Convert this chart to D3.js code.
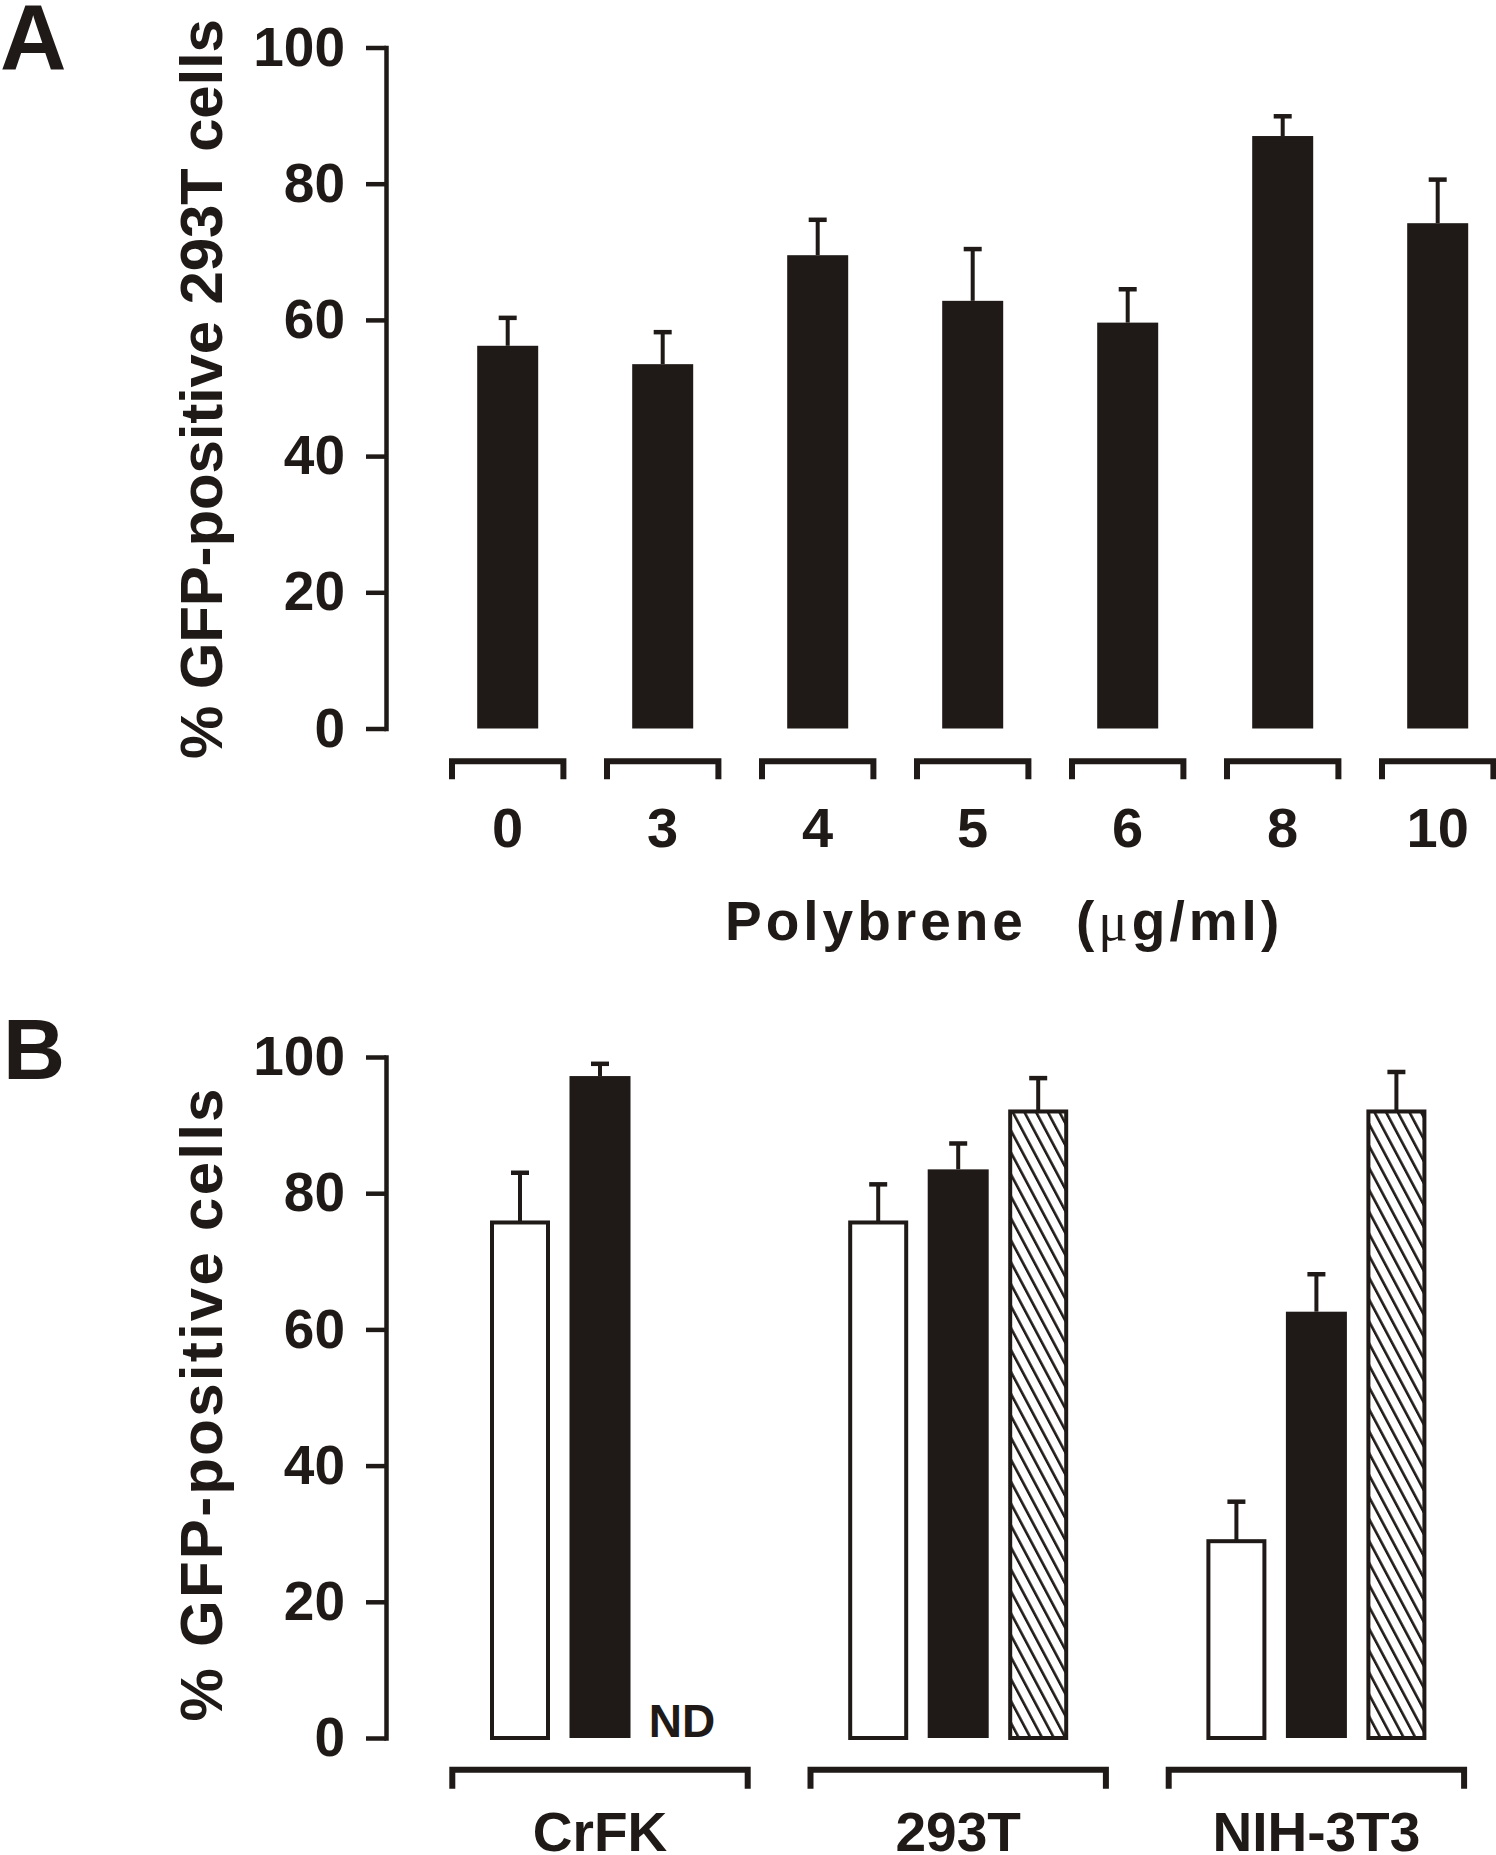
<!DOCTYPE html>
<html lang="en">
<head>
  <meta charset="UTF-8">
  <style>
    body { margin: 0; background: #fff; }
    svg { display: block; font-family: Arial, 'Liberation Sans', sans-serif; }
    text { font-weight: bold; fill: #1f1a17; }
  </style>
</head>
<body>
  <svg class="chart"></svg>
  <script src="https://cdnjs.cloudflare.com/ajax/libs/d3/7.8.5/d3.min.js"></script>
  <script>
    // panel A: polybrene dose series
    const doses = ['0', '3', '4', '5', '6', '8', '10']
    const doseMeans = [56.2, 53.5, 69.5, 62.8, 59.6, 87.0, 74.2]
    const doseErrors = [4.1, 4.7, 5.2, 7.6, 4.9, 2.9, 6.4]

    // panel B: three cell lines, three conditions (null = not determined)
    const cellLines = ['CrFK', '293T', 'NIH-3T3']
    const conditions = ['open', 'solid', 'hatched']
    const openMeans = [75.7, 75.7, 28.9]
    const openErrors = [7.3, 5.6, 5.8]
    const solidMeans = [97.2, 83.5, 62.6]
    const solidErrors = [1.8, 3.8, 5.5]
    const hatchedMeans = [null, 92.0, 92.0]
    const hatchedErrors = [null, 4.9, 5.8]

    const yTicks = [0, 20, 40, 60, 80, 100]

    const ink = '#1f1a17'
    const W = 1496, H = 1855
    const axisX = 386

    const svg = d3.select('.chart')
      .attr('width', W)
      .attr('height', H)

    // diagonal hatch for the third condition
    svg.append('defs').append('pattern')
        .attr('id', 'hatch')
        .attr('patternUnits', 'userSpaceOnUse')
        .attr('width', 10.3)
        .attr('height', 20)
        .attr('patternTransform', 'rotate(-28)')
      .append('rect')
        .attr('x', 0)
        .attr('y', 0)
        .attr('width', 2.6)
        .attr('height', 20)
        .attr('fill', ink)

    function drawAxis(y) {
      const ax = svg.append('g')
        .attr('transform', `translate(${axisX},0)`)
        .call(d3.axisLeft(y).tickValues(yTicks).tickSize(20).tickSizeOuter(0).tickPadding(21))
        .attr('font-family', null)
        .attr('font-size', null)
      ax.select('.domain')
        .attr('stroke', ink)
        .attr('stroke-width', 4.5)
        .attr('stroke-linecap', 'square')
      ax.selectAll('.tick line')
        .attr('stroke', ink)
        .attr('stroke-width', 4.5)
      ax.selectAll('.tick text')
        .attr('font-size', 55)
        .attr('fill', ink)
    }

    function drawError(g, x, y, v, e) {
      if (v == null || e == null) return
      g.append('line')
        .attr('x1', x).attr('x2', x)
        .attr('y1', y(v)).attr('y2', y(v + e))
        .attr('stroke', ink).attr('stroke-width', 4)
      g.append('line')
        .attr('x1', x - 9).attr('x2', x + 9)
        .attr('y1', y(v + e)).attr('y2', y(v + e))
        .attr('stroke', ink).attr('stroke-width', 4.5)
    }

    function bracket(g, cx, half, top, bottom) {
      g.append('path')
        .attr('d', `M${cx - half},${bottom}V${top}H${cx + half}V${bottom}`)
        .attr('fill', 'none')
        .attr('stroke', ink)
        .attr('stroke-width', 6)
    }

    // ---------- panel A ----------
    const yA = d3.scaleLinear().domain([0, 100]).range([728.5, 47.5])
    const xA = d3.scalePoint().domain(doses).range([507.7, 1437.7])
    const gA = svg.append('g')

    drawAxis(yA)

    doses.forEach((d, i) => {
      drawError(gA, xA(d), yA, doseMeans[i], doseErrors[i])
    })
    gA.selectAll('rect.bar')
      .data(doses)
      .enter().append('rect')
        .attr('class', 'bar')
        .attr('x', d => xA(d) - 30.5)
        .attr('y', (d, i) => yA(doseMeans[i]))
        .attr('width', 61)
        .attr('height', (d, i) => yA(0) - yA(doseMeans[i]))
        .attr('fill', ink)

    doses.forEach(d => bracket(gA, xA(d), 55.7, 761.3, 779.3))

    gA.selectAll('text.dose')
      .data(doses)
      .enter().append('text')
        .attr('class', 'dose')
        .attr('x', d => xA(d))
        .attr('y', 846.5)
        .attr('text-anchor', 'middle')
        .attr('font-size', 56)
        .text(d => d)

    const xTitle = gA.append('text')
      .attr('x', 725)
      .attr('y', 940)
      .attr('font-size', 55)
      .attr('letter-spacing', 4)
    xTitle.append('tspan').text('Polybrene')
    xTitle.append('tspan').attr('x', 1076).text('(')
    xTitle.append('tspan')
      .attr('font-family', "'Liberation Serif', 'DejaVu Serif', serif")
      .style('font-weight', 'normal')
      .text('\u03bc')
    xTitle.append('tspan').text('g/ml)')

    gA.append('text')
      .attr('transform', 'translate(222,389) rotate(-90)')
      .attr('text-anchor', 'middle')
      .attr('font-size', 60)
      .attr('textLength', 740)
      .attr('lengthAdjust', 'spacing')
      .text('% GFP-positive 293T cells')

    svg.append('text')
      .attr('x', 0).attr('y', 69)
      .attr('font-size', 92)
      .text('A')

    // ---------- panel B ----------
    const yB = d3.scaleLinear().domain([0, 100]).range([1738, 1057])
    const xB = d3.scalePoint().domain(cellLines).range([600, 1316.4])
    const xSub = d3.scalePoint().domain(conditions).range([-80, 80])
    const gB = svg.append('g')

    drawAxis(yB)

    const means = { open: openMeans, solid: solidMeans, hatched: hatchedMeans }
    const errors = { open: openErrors, solid: solidErrors, hatched: hatchedErrors }

    conditions.forEach(c => {
      cellLines.forEach((line, i) => {
        drawError(gB, xB(line) + xSub(c), yB, means[c][i], errors[c][i])
      })
    })

    conditions.forEach(c => {
      const rows = cellLines.map((line, i) => ({ line, v: means[c][i] })).filter(r => r.v != null)
      const outlined = c !== 'solid'
      gB.selectAll(`rect.${c}`)
        .data(rows)
        .enter().append('rect')
          .attr('class', c)
          .attr('x', r => xB(r.line) + xSub(c) - (outlined ? 28 : 30.5))
          .attr('y', r => yB(r.v))
          .attr('width', outlined ? 56 : 61)
          .attr('height', r => yB(0) - yB(r.v))
          .attr('fill', c === 'solid' ? ink : c === 'hatched' ? 'url(#hatch)' : '#fff')
          .attr('stroke', outlined ? ink : 'none')
          .attr('stroke-width', 4)
    })

    // not determined marker
    cellLines.forEach((line, i) => {
      if (hatchedMeans[i] == null) {
        gB.append('text')
          .attr('x', xB(line) + xSub('hatched') + 2)
          .attr('y', 1737)
          .attr('text-anchor', 'middle')
          .attr('font-size', 46)
          .text('ND')
      }
    })

    cellLines.forEach(line => bracket(gB, xB(line), 147.7, 1769.7, 1788.7))

    gB.selectAll('text.line')
      .data(cellLines)
      .enter().append('text')
        .attr('class', 'line')
        .attr('x', d => xB(d))
        .attr('y', 1851)
        .attr('text-anchor', 'middle')
        .attr('font-size', 55)
        .text(d => d)

    gB.append('text')
      .attr('transform', 'translate(222,1405) rotate(-90)')
      .attr('text-anchor', 'middle')
      .attr('font-size', 60)
      .attr('textLength', 633)
      .attr('lengthAdjust', 'spacing')
      .text('% GFP-positive  cells')

    svg.append('text')
      .attr('x', 3).attr('y', 1079)
      .attr('font-size', 86)
      .text('B')
  </script>
</body>
</html>
